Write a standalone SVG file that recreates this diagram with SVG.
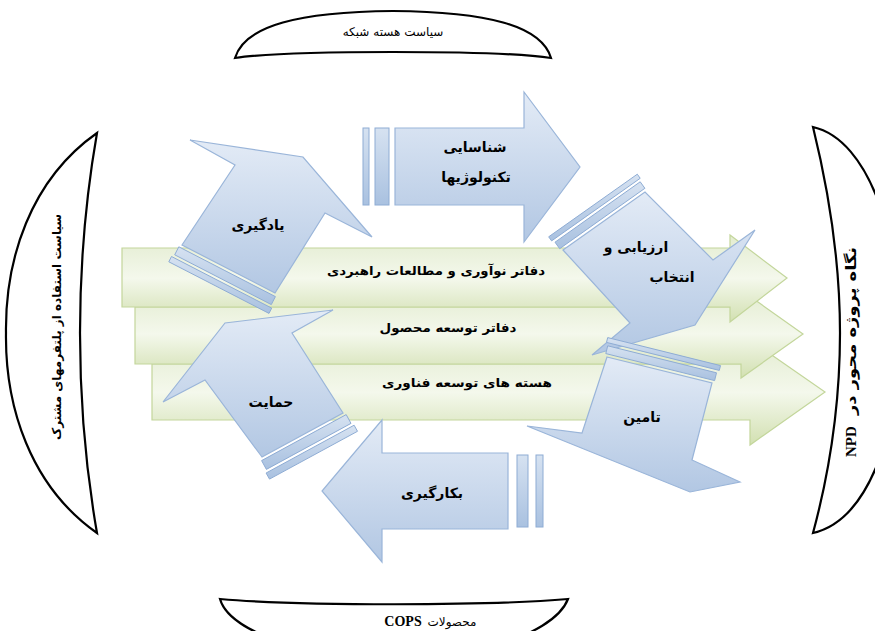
<svg xmlns="http://www.w3.org/2000/svg" width="875" height="631" viewBox="0 0 875 631">
<style>
.frame{fill:#ffffff;stroke:#000000;stroke-width:2.2}
.bar{fill:url(#greenGrad);stroke:#c3d69b;stroke-width:1.2}
.arw{fill:url(#blueGrad);stroke:#9ab5d9;stroke-width:1.2}
.strp{fill:url(#stripeGrad);stroke:#8eacd4;stroke-width:1}
.lbl{font-family:"DejaVu Sans",sans-serif;font-weight:bold;font-size:14px;fill:#000;text-anchor:middle}
.blbl{font-family:"DejaVu Sans",sans-serif;font-weight:bold;font-size:12px;fill:#000;text-anchor:middle}
.flbl{font-family:"DejaVu Sans",sans-serif;font-size:12px;fill:#000;text-anchor:middle}
.flblb{font-family:"DejaVu Sans",sans-serif;font-weight:bold;font-size:12px;fill:#000;text-anchor:middle}
.ser{font-family:"Liberation Serif",serif;font-weight:bold;font-size:14px;fill:#000;text-anchor:middle}
</style>
<defs>
<linearGradient id="blueGrad" x1="0" y1="0" x2="0" y2="1">
<stop offset="0" stop-color="#e3ebf6"/>
<stop offset="1" stop-color="#b2c7e3"/>
</linearGradient>
<linearGradient id="stripeGrad" x1="0" y1="0" x2="0" y2="1">
<stop offset="0" stop-color="#d6e2f1"/>
<stop offset="1" stop-color="#a9c1e0"/>
</linearGradient>
<linearGradient id="greenGrad" x1="0" y1="0" x2="0" y2="1">
<stop offset="0" stop-color="#e3ecd0"/>
<stop offset="0.5" stop-color="#f4f8ec"/>
<stop offset="1" stop-color="#d2e0b1"/>
</linearGradient>
</defs>

<g id="frame-top">
<path class="frame" d="M235,58 C245,25 300,12 393,11 C486,12 541,25 551,58 C500,50 286,50 235,58 Z"/>
<text class="flbl" x="393" y="36">سیاست هسته شبکه</text>
</g>
<g id="frame-bottom">
<path class="frame" d="M220,599 C300,606 490,606 568,599 C560,620 530,634 500,645 L290,645 C255,634 226,620 220,599 Z"/>
<text class="ser" x="403" y="626">COPS</text>
<text class="flbl" x="452" y="626">محصولات</text>
</g>
<g id="frame-left">
<path class="frame" d="M97,133 C30,180 5,260 6,333 C5,406 30,486 97,533 C86,470 80,400 80,333 C80,266 86,196 97,133 Z"/>
<text class="flblb" transform="translate(57,327) rotate(-90)" y="4">سیاست استفاده از پلتفرمهای مشترک</text>
</g>
<g id="frame-right">
<path class="frame" d="M813,127 C870,140 900,240 900,333 C900,426 870,520 813,533 C830,470 840,400 840,333 C840,266 830,196 813,127 Z"/>
<g transform="translate(851,353) rotate(-90)">
<text class="flblb" style="font-size:14px;text-anchor:start" transform="scale(1.28,1)" x="-48.4" y="5">نگاه پروژه محور در</text>
<text class="ser" style="font-size:15px;text-anchor:start" x="-104" y="5">NPD</text>
</g>
</g>

<g id="bar-3">
<path class="bar" d="M152,364 H750 V340 L825,392 L750,445 V420 H152 Z"/>
<text class="blbl" x="467" y="387" textLength="170" lengthAdjust="spacingAndGlyphs">هسته های توسعه فناوری</text>
</g>
<g id="bar-2">
<path class="bar" d="M135,307 H741 V290 L803,334 L741,378 V364 H135 Z"/>
<text class="blbl" x="448" y="332" textLength="137" lengthAdjust="spacingAndGlyphs">دفاتر توسعه محصول</text>
</g>
<g id="bar-1">
<path class="bar" d="M122,248 H730 V235 L787,278 L730,322 V307 H122 Z"/>
<text class="blbl" x="436" y="275" textLength="218" lengthAdjust="spacingAndGlyphs">دفاتر نوآوری و مطالعات راهبردی</text>
</g>

<g id="arrow-identify">
<rect class="strp" x="363" y="128" width="6" height="77"/>
<rect class="strp" x="375" y="128" width="14" height="77"/>
<path class="arw" d="M395,128 H524 V92 L580,167 L524,242 V205 H395 Z"/>
<text class="lbl" x="475" y="152">شناسایی</text>
<text class="lbl" x="476" y="182">تکنولوژیها</text>
</g>

<g id="arrow-evaluate">
<polygon class="strp" points="548.7,236.8 637.3,174.2 640.2,178.3 551.6,240.9"/>
<polygon class="strp" points="555,242.2 640.2,181.8 644.9,188.3 559.7,248.7"/>
<path class="arw" d="M563,250 L645,192 L713,260 L755,230 L695,325 L592,355 L630,323 Z"/>
<text class="lbl" x="636" y="252">ارزیابی و</text>
<text class="lbl" x="672" y="282">انتخاب</text>
</g>

<g id="arrow-supply">
<polygon class="strp" points="607.7,337.6 720.5,365.6 719.3,370.4 606.5,342.4"/>
<polygon class="strp" points="607.7,345.8 716.5,372.8 714.6,380.6 605.8,353.6"/>
<path class="arw" d="M607,357 L712,383 L692,460 L740,482 L690,492 L527,426 L582,433 Z"/>
<text class="lbl" x="642" y="422">تامین</text>
</g>

<g id="arrow-apply">
<rect class="strp" x="517" y="455" width="11" height="72"/>
<rect class="strp" x="536" y="455" width="7" height="72"/>
<path class="arw" d="M508,453 H382 V420 L322,491 L382,562 V529 H508 Z"/>
<text class="lbl" x="432" y="498">بکارگیری</text>
</g>

<g id="arrow-support">
<polygon class="strp" points="261.6,460.6 346.2,414.6 351,423.4 266.4,469.4"/>
<polygon class="strp" points="266.1,473 354.1,425.2 357.5,431.3 269.5,479.1"/>
<path class="arw" d="M262,457 L205,380 L163,402 L225,323 L333,310 L292,333 L343,413 Z"/>
<text class="lbl" x="271" y="407">حمایت</text>
</g>

<g id="arrow-learn">
<polygon class="strp" points="178.8,246.8 275.4,296.6 271.3,304.6 174.7,254.8"/>
<polygon class="strp" points="171.5,256.5 271.7,308.1 269,313.4 168.8,261.8"/>
<path class="arw" d="M182,245 L235,165 L190,140 L303,157 L372,237 L325,213 L275,293 Z"/>
<text class="lbl" x="258" y="230">یادگیری</text>
</g>

<g id="connectors"></g>
</svg>
